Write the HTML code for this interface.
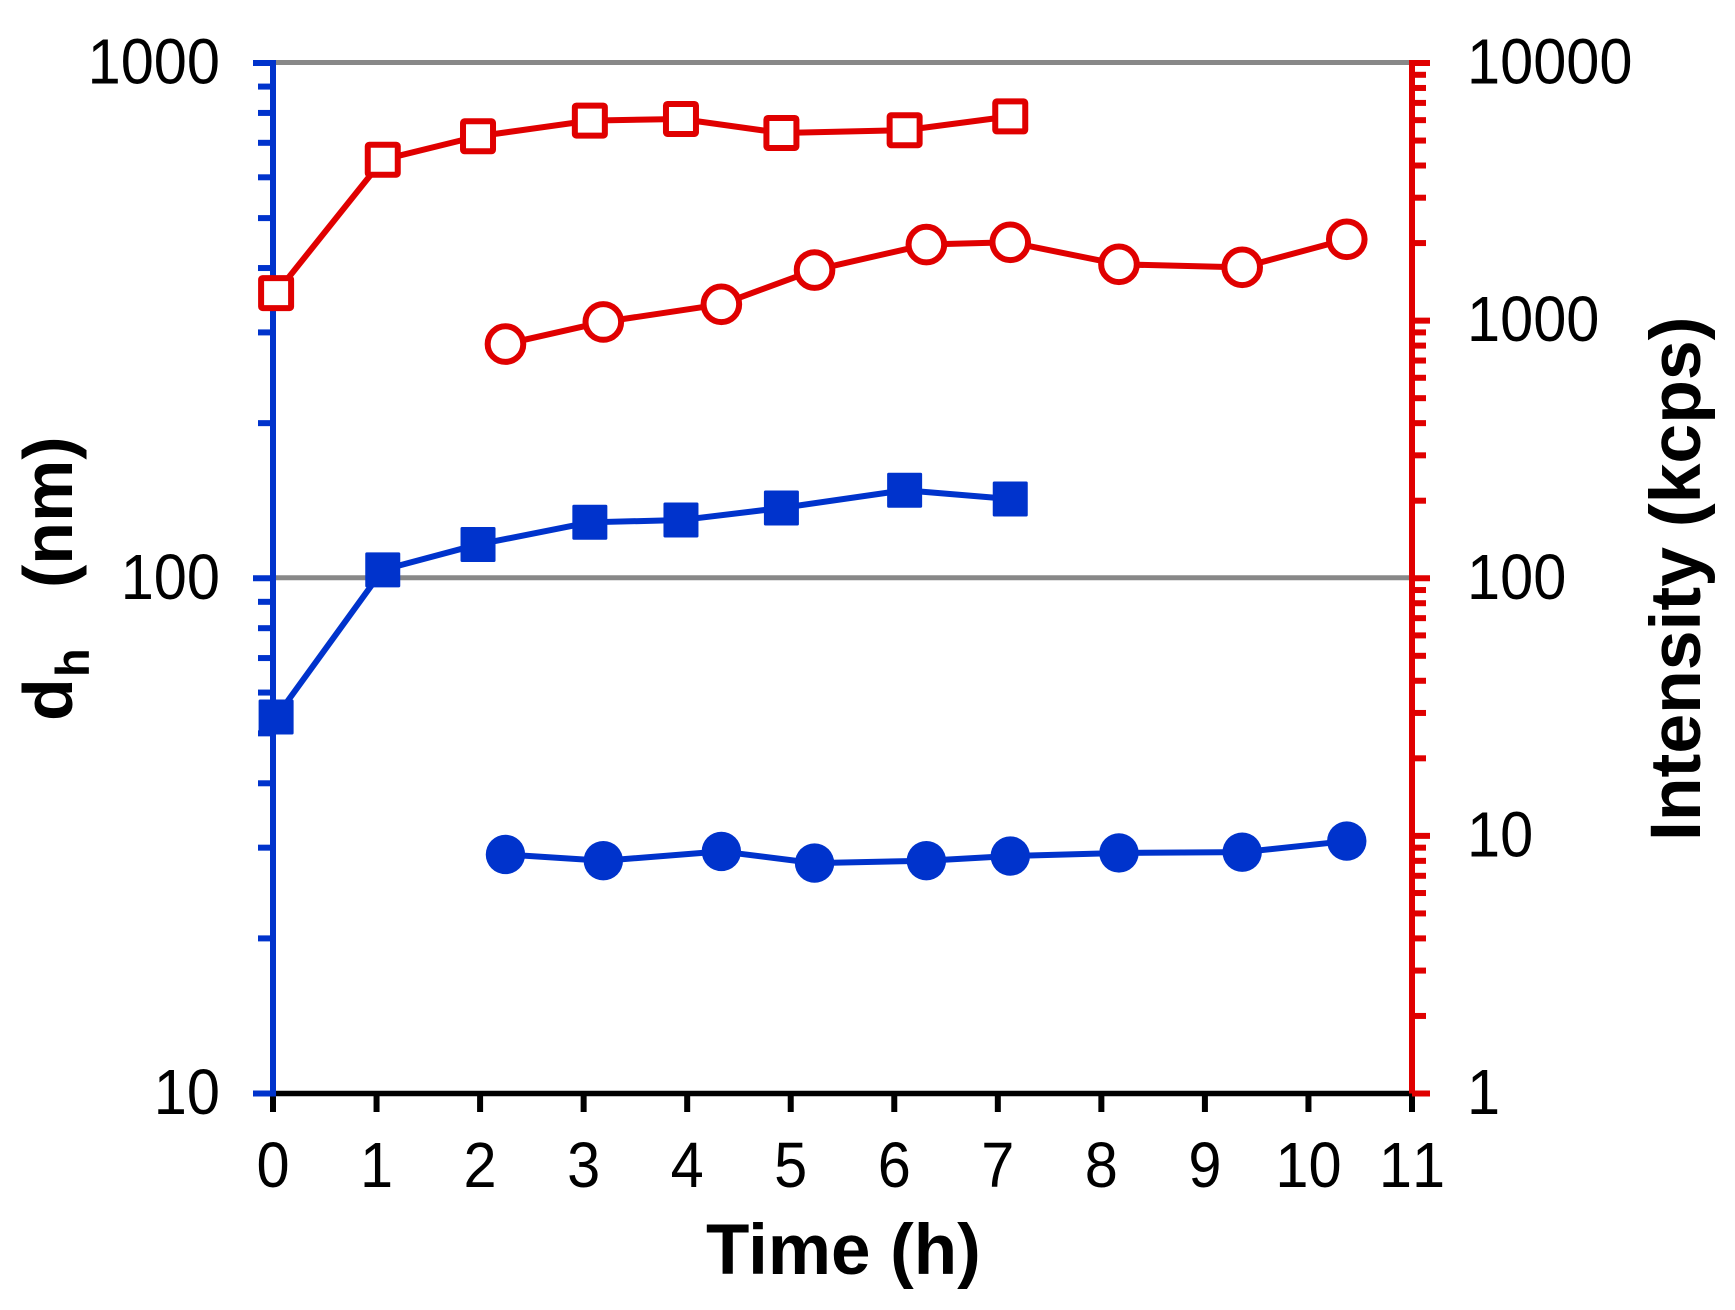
<!DOCTYPE html>
<html lang="en">
<head>
<meta charset="utf-8">
<title>Hydrodynamic diameter and intensity over time</title>
<style>
  html, body { margin: 0; padding: 0; background: #ffffff; }
  body { width: 1735px; height: 1310px; overflow: hidden; }
  svg { display: block; }
  text { font-family: "Liberation Sans", Arial, sans-serif; fill: #000000; }
  .tick-label { font-size: 64px; font-kerning: none; }
  .axis-title { font-size: 70px; font-weight: bold; }
</style>
</head>
<body>
<svg id="chart" xmlns="http://www.w3.org/2000/svg" width="1735" height="1310" viewBox="0 0 1735 1310">
  <g id="grid"></g>
  <g id="axes"></g>
  <g id="series"></g>
  <g id="labels"></g>
  <text class="axis-title" x="706" y="1274" style="font-size:71px">Time (h)</text>
  <text class="axis-title" transform="translate(1700 841) rotate(-90)" style="font-size:71.5px">Intensity (kcps)</text>
  <g>
    <text class="axis-title" transform="translate(72 721) rotate(-90)">d</text>
    <text transform="translate(89 677) rotate(-90)" style="font-size:47px;font-weight:bold">h</text>
    <text class="axis-title" transform="translate(72 588) rotate(-90)">(nm)</text>
  </g>
</svg>
<script>
// Category values (hours)
const squareTimes = [0.03, 1.06, 1.98, 3.06, 3.94, 4.91, 6.10, 7.12];
const circleTimes = [2.245, 3.19, 4.33, 5.23, 6.31, 7.12, 8.17, 9.36, 10.37];

// Series values
const intensitySquares = [1279, 4213, 5195, 5976, 6063, 5350, 5483, 6205];
const intensityCircles = [811, 988, 1157, 1572, 1974, 2014, 1654, 1610, 2069];
const diameterSquares = [53.8, 103.8, 116.3, 128.4, 129.7, 136.9, 148.2, 142.5];
const diameterCircles = [29.1, 28.3, 29.5, 28.0, 28.3, 28.9, 29.3, 29.4, 30.9];

// Tick values
const xTicks = [0, 1, 2, 3, 4, 5, 6, 7, 8, 9, 10, 11];
const leftMajorTicks = [10, 100, 1000];
const rightMajorTicks = [1, 10, 100, 1000, 10000];
const minorMultipliers = [2, 3, 4, 5, 6, 7, 8, 9];

const BLUE = '#0033cc';
const RED = '#e00000';
const GRAY = '#888888';
const SVG_NS = 'http://www.w3.org/2000/svg';
const LABEL_SQUEEZE = 0.93;

const PLOT_LEFT = 273, PLOT_RIGHT = 1412, PLOT_TOP = 63, PLOT_BOTTOM = 1093.5;
const X_MAX = 11;

function xScale(t) {
  return PLOT_LEFT + (t / X_MAX) * (PLOT_RIGHT - PLOT_LEFT);
}
function yLeft(v) {
  return PLOT_TOP + (3 - Math.log10(v)) / 2 * (PLOT_BOTTOM - PLOT_TOP);
}
function yRight(v) {
  return PLOT_TOP + (4 - Math.log10(v)) / 4 * (PLOT_BOTTOM - PLOT_TOP);
}
function labelTransform(x, y) {
  return 'translate(' + x + ' ' + y + ') scale(' + LABEL_SQUEEZE + ' 1)';
}

function make(tag, parent, props) {
  const el = document.createElementNS(SVG_NS, tag);
  for (const k in props) el.setAttribute(k, props[k]);
  parent.appendChild(el);
  return el;
}

const gridGroup = document.getElementById('grid');
const axesGroup = document.getElementById('axes');
const seriesGroup = document.getElementById('series');
const labelsGroup = document.getElementById('labels');

// Gridlines
[100, 1000].forEach(function (v) {
  const y = yLeft(v) - 0.5;
  const line = make('line', gridGroup, { x1: PLOT_LEFT, x2: PLOT_RIGHT, y1: y, y2: y, stroke: GRAY, 'stroke-width': 5 });
  
  
});

// X axis
const xAxis = make('line', axesGroup, { x1: PLOT_LEFT, x2: PLOT_RIGHT + 3, y1: PLOT_BOTTOM, y2: PLOT_BOTTOM, stroke: '#000', 'stroke-width': 5.5 });



xTicks.forEach(function (t) {
  const x = xScale(t);
  const tick = make('line', axesGroup, { x1: x, x2: x, y1: PLOT_BOTTOM, y2: 1112, stroke: '#000', 'stroke-width': 6 });
  
  
  const label = make('text', labelsGroup, { class: 'tick-label', transform: labelTransform(x, 1187), 'text-anchor': 'middle' });
  label.textContent = String(t);
  
  
});

// Right axis (intensity)
const rightAxis = make('line', axesGroup, { x1: PLOT_RIGHT, x2: PLOT_RIGHT, y1: PLOT_TOP - 3, y2: PLOT_BOTTOM, stroke: RED, 'stroke-width': 6 });



rightMajorTicks.forEach(function (v, i) {
  const y = yRight(v);
  const tick = make('line', axesGroup, { x1: PLOT_RIGHT, x2: 1430, y1: y, y2: y, stroke: RED, 'stroke-width': 6 });
  
  
  const label = make('text', labelsGroup, { class: 'tick-label', transform: labelTransform(1467, y + 20.5) });
  label.textContent = String(v);
  
  
  if (i < rightMajorTicks.length - 1) {
    minorMultipliers.forEach(function (m) {
      const my = yRight(v * m);
      const minor = make('line', axesGroup, { x1: PLOT_RIGHT, x2: 1426, y1: my, y2: my, stroke: RED, 'stroke-width': 6 });
      
      
    });
  }
});

// Left axis (diameter)
const leftAxis = make('line', axesGroup, { x1: PLOT_LEFT, x2: PLOT_LEFT, y1: PLOT_TOP - 3, y2: PLOT_BOTTOM + 3, stroke: BLUE, 'stroke-width': 6 });



leftMajorTicks.forEach(function (v, i) {
  const y = yLeft(v);
  const tick = make('line', axesGroup, { x1: 253, x2: PLOT_LEFT, y1: y, y2: y, stroke: BLUE, 'stroke-width': 6 });
  
  
  const label = make('text', labelsGroup, { class: 'tick-label', transform: labelTransform(220, y + 20.5), 'text-anchor': 'end' });
  label.textContent = String(v);
  
  
  if (i < leftMajorTicks.length - 1) {
    minorMultipliers.forEach(function (m) {
      const my = yLeft(v * m);
      const minor = make('line', axesGroup, { x1: 258, x2: PLOT_LEFT, y1: my, y2: my, stroke: BLUE, 'stroke-width': 6 });
      
      
    });
  }
});

// Series
function drawSeries(name, times, values, yFn, color, shape, filled) {
  const group = make('g', seriesGroup, {});
  
  

  const pts = times.map(function (t, i) { return xScale(t) + ',' + yFn(values[i]); }).join(' ');
  const line = make('polyline', group, { points: pts, fill: 'none', stroke: color, 'stroke-width': 6, 'stroke-linejoin': 'round' });
  
  

  times.forEach(function (t, i) {
    const cx = xScale(t), cy = yFn(values[i]);
    let mark;
    if (shape === 'square') {
      const half = filled ? 17.5 : 15;
      mark = make('rect', group, {
        x: cx - half, y: cy - half, width: half * 2, height: half * 2, rx: 1.5,
        fill: filled ? color : '#ffffff',
        stroke: filled ? 'none' : color,
        'stroke-width': filled ? 0 : 6,
        'stroke-linejoin': 'round'
      });
    } else {
      mark = make('circle', group, {
        cx: cx, cy: cy, r: filled ? 19.7 : 17.8,
        fill: filled ? color : '#ffffff',
        stroke: filled ? 'none' : color,
        'stroke-width': filled ? 0 : 6
      });
    }
    
    
  });
}

drawSeries('diameter-squares', squareTimes, diameterSquares, yLeft, BLUE, 'square', true);
drawSeries('diameter-circles', circleTimes, diameterCircles, yLeft, BLUE, 'circle', true);
drawSeries('intensity-squares', squareTimes, intensitySquares, yRight, RED, 'square', false);
drawSeries('intensity-circles', circleTimes, intensityCircles, yRight, RED, 'circle', false);
</script>
</body>
</html>
